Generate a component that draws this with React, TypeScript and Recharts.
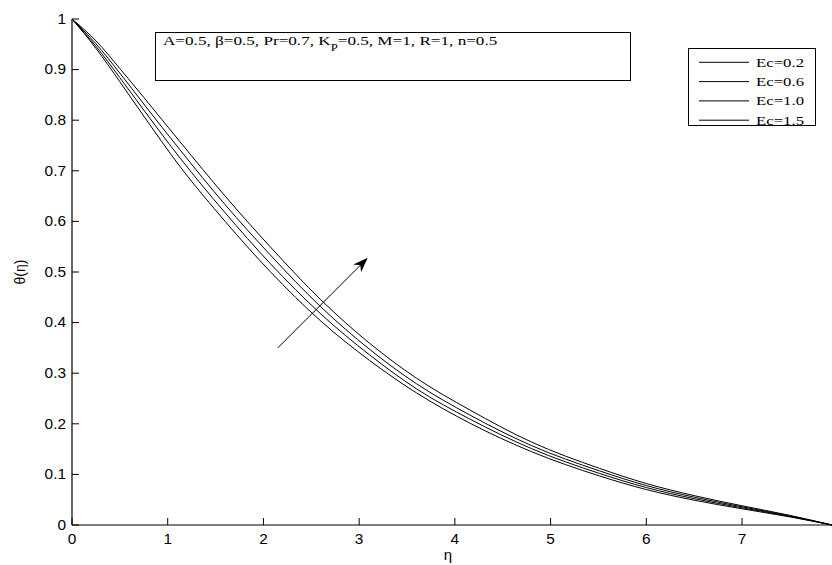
import React from 'react';
import { LineChart, Line, XAxis, YAxis, ReferenceLine } from 'recharts';

const etaValues = [0, 0.25, 0.5, 0.75, 1.13, 1.6, 2.07, 2.6, 3.11, 3.6, 4.16, 4.8, 5.51, 6.0, 6.5, 7.0, 7.5, 7.94];
const ec02 = [1, 0.942, 0.876, 0.808, 0.708, 0.6, 0.501, 0.403, 0.325, 0.261, 0.201, 0.145, 0.097, 0.07, 0.049, 0.032, 0.016, 0];
const ec06 = [1, 0.946, 0.884, 0.82, 0.725, 0.617, 0.517, 0.417, 0.336, 0.269, 0.209, 0.151, 0.102, 0.074, 0.052, 0.034, 0.017, 0];
const ec10 = [1, 0.951, 0.893, 0.832, 0.741, 0.633, 0.534, 0.431, 0.347, 0.279, 0.217, 0.157, 0.107, 0.078, 0.055, 0.036, 0.018, 0];
const ec15 = [1, 0.957, 0.902, 0.845, 0.757, 0.65, 0.55, 0.445, 0.359, 0.29, 0.227, 0.164, 0.112, 0.082, 0.058, 0.038, 0.019, 0];

const seriesNames = ['Ec=0.2', 'Ec=0.6', 'Ec=1.0', 'Ec=1.5'];
const seriesKeys = ['ec02', 'ec06', 'ec10', 'ec15'];
const xTicks = [0, 1, 2, 3, 4, 5, 6, 7];
const yTicks = [0, 0.1, 0.2, 0.3, 0.4, 0.5, 0.6, 0.7, 0.8, 0.9, 1];
const arrowStart = { x: 2.15, y: 0.35 };
const arrowEnd = { x: 3.09, y: 0.528 };

const data = etaValues.map((eta, i) => ({
  eta,
  ec02: ec02[i],
  ec06: ec06[i],
  ec10: ec10[i],
  ec15: ec15[i],
}));

const SANS = '"Liberation Sans", Arial, Helvetica, sans-serif';
const SERIF = '"Liberation Serif", "Times New Roman", serif';
const TICK = 7;
const XM = 14;
const YM = 6;

const BottomTick = (props: any) => {
  const { x, y, payload } = props;
  const y0 = y - XM;
  return (
    <g>
      <line x1={x} x2={x} y1={y0} y2={y0 - TICK} stroke="#000" strokeWidth={1} />
      <text
        transform={`translate(${x},${y}) scale(1.1,1)`}
        x={0}
        y={0}
        textAnchor="middle"
        dominantBaseline="central"
        fontFamily={SANS}
        fontSize={14}
        fill="#000"
      >
        {payload.value}
      </text>
    </g>
  );
};

const TopTick = (props: any) => {
  const { x, y } = props;
  return <line x1={x} x2={x} y1={y} y2={y + TICK} stroke="#000" strokeWidth={1} />;
};

const LeftTick = (props: any) => {
  const { x, y, payload } = props;
  const x0 = x + YM;
  return (
    <g>
      <line x1={x0} x2={x0 + TICK} y1={y} y2={y} stroke="#000" strokeWidth={1} />
      <text
        transform={`translate(${x},${y}) scale(1.1,1)`}
        x={0}
        y={0}
        textAnchor="end"
        dominantBaseline="central"
        fontFamily={SANS}
        fontSize={14}
        fill="#000"
      >
        {payload.value}
      </text>
    </g>
  );
};

const RightTick = (props: any) => {
  const { x, y } = props;
  return <line x1={x - TICK} x2={x} y1={y} y2={y} stroke="#000" strokeWidth={1} />;
};

const ArrowShape = (props: any) => {
  const { x1, y1, x2, y2 } = props;
  const ang = Math.atan2(y2 - y1, x2 - x1);
  const L = 15;
  const W = 5.5;
  const bx = x2 - L * Math.cos(ang);
  const by = y2 - L * Math.sin(ang);
  const nx = -Math.sin(ang);
  const ny = Math.cos(ang);
  const ix = x2 - L * 0.7 * Math.cos(ang);
  const iy = y2 - L * 0.7 * Math.sin(ang);
  return (
    <g>
      <line x1={x1} y1={y1} x2={ix} y2={iy} stroke="#000" strokeWidth={1} />
      <polygon
        points={`${x2},${y2} ${bx + nx * W},${by + ny * W} ${ix},${iy} ${bx - nx * W},${by - ny * W}`}
        fill="#000"
      />
    </g>
  );
};

const Overlay = () => (
  <svg
    width={832}
    height={565}
    style={{ position: 'absolute', left: 0, top: 0, pointerEvents: 'none' }}
  >
    {/* parameter box */}
    <rect x={155.5} y={32.5} width={475} height={48} fill="#fff" stroke="#000" strokeWidth={1} />
    <text
      transform="translate(163,45) scale(1.27,1)"
      x={0}
      y={0}
      fontFamily={SERIF}
      fontSize={13.5}
      fill="#000"
    >
      <tspan>A=0.5, β=0.5, Pr=0.7, K</tspan>
      <tspan dy={6} fontSize={10}>P</tspan>
      <tspan dy={-6}>=0.5, M=1, R=1, n=0.5</tspan>
    </text>
    {/* legend box */}
    <rect x={688.5} y={48.5} width={127} height={77} fill="#fff" stroke="#000" strokeWidth={1} />
    {seriesNames.map((n, i) => {
      const cy = 62.3 + i * 19.3;
      return (
        <g key={n}>
          <line x1={699} x2={749} y1={cy} y2={cy} stroke="#000" strokeWidth={1} />
          <text
            x={756}
            y={cy + 4.5}
            fontFamily={SERIF}
            fontSize={13}
            fill="#000"
            textLength={48}
            lengthAdjust="spacingAndGlyphs"
          >
            {n}
          </text>
        </g>
      );
    })}
  </svg>
);

export default function App() {
  return (
    <div style={{ position: 'absolute', left: 0, top: 0, width: 832, height: 565, background: '#fff' }}>
      <LineChart width={832} height={565} data={data} margin={{ top: 19, right: 0, bottom: 0, left: 0 }}>
        <XAxis
          xAxisId="bottom"
          dataKey="eta"
          type="number"
          domain={[0, 7.94]}
          ticks={xTicks}
          allowDataOverflow
          height={40}
          tickSize={0}
          tickMargin={XM}
          tickLine={false}
          tick={<BottomTick />}
          axisLine={{ stroke: '#000', strokeWidth: 1.2 }}
          interval={0}
          label={({ viewBox }: any) => (
            <text
              x={viewBox.x + viewBox.width / 2 - 4}
              y={554}
              textAnchor="middle"
              dominantBaseline="central"
              fontFamily={SANS}
              fontSize={15}
              fill="#000"
            >
              η
            </text>
          )}
        />
        <XAxis
          xAxisId="top"
          orientation="top"
          dataKey="eta"
          type="number"
          domain={[0, 7.94]}
          ticks={xTicks}
          allowDataOverflow
          height={0}
          tickSize={0}
          tickMargin={0}
          tickLine={false}
          tick={<TopTick />}
          axisLine={{ stroke: '#000', strokeWidth: 1.2 }}
          interval={0}
        />
        <YAxis
          yAxisId="left"
          type="number"
          domain={[0, 1]}
          ticks={yTicks}
          width={72}
          tickSize={0}
          tickMargin={YM}
          tickLine={false}
          tick={<LeftTick />}
          axisLine={{ stroke: '#000', strokeWidth: 1.2 }}
          interval={0}
          label={({ viewBox }: any) => (
            <text
              x={20}
              y={viewBox.y + viewBox.height / 2}
              textAnchor="middle"
              dominantBaseline="central"
              fontFamily={SANS}
              fontSize={14}
              fill="#000"
              transform={`rotate(-90, 20, ${viewBox.y + viewBox.height / 2})`}
            >
              θ(η)
            </text>
          )}
        />
        <YAxis
          yAxisId="right"
          orientation="right"
          type="number"
          domain={[0, 1]}
          ticks={yTicks}
          width={0}
          tickSize={0}
          tickMargin={0}
          tickLine={false}
          tick={<RightTick />}
          axisLine={{ stroke: '#000', strokeWidth: 1.2 }}
          interval={0}
        />
        {seriesKeys.map((k, i) => (
          <Line
            key={k}
            xAxisId="bottom"
            yAxisId="left"
            dataKey={k}
            name={seriesNames[i]}
            type="monotone"
            stroke="#000"
            strokeWidth={1}
            dot={false}
            activeDot={false}
            isAnimationActive={false}
          />
        ))}
        <ReferenceLine
          xAxisId="bottom"
          yAxisId="left"
          segment={[arrowStart, arrowEnd]}
          shape={<ArrowShape />}
          ifOverflow="visible"
        />
      </LineChart>
      <Overlay />
    </div>
  );
}
